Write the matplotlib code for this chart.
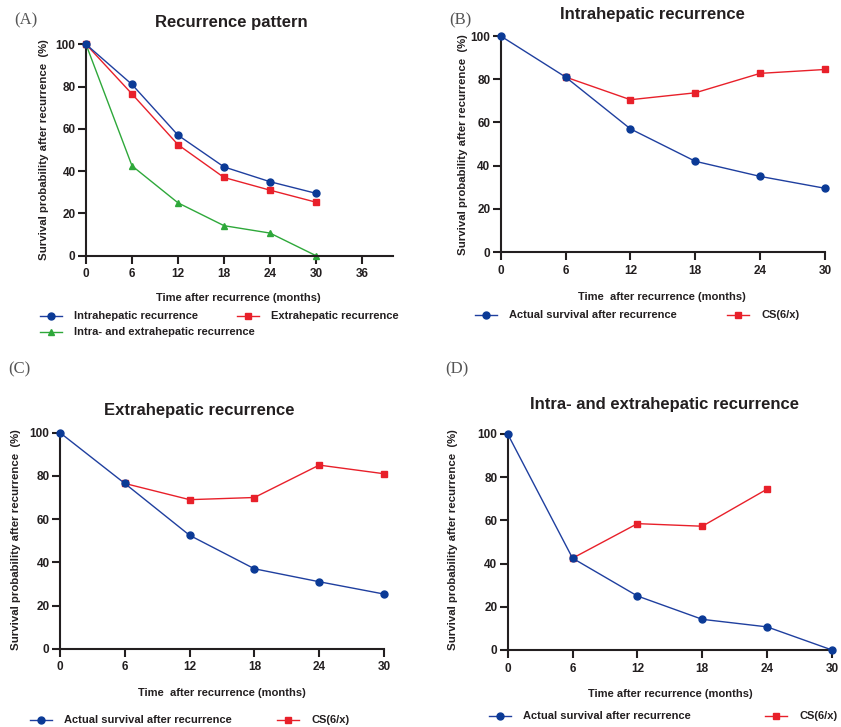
import matplotlib
matplotlib.use("Agg")
from matplotlib import pyplot as plt

# ---- data ----
months = [0, 6, 12, 18, 24, 30]
months_cs = [6, 12, 18, 24, 30]

intra = [100, 81, 57, 42, 35, 29.5]
extra = [100, 76.5, 52.5, 37, 31, 25.3]
both = [100, 42.5, 25, 14.2, 10.7, 0]

cs_intra = [81, 70.5, 73.7, 82.7, 84.5]
cs_extra = [76.5, 69, 70, 85, 81]
cs_both = [42.5, 58.5, 57.3, 74.5]

xticks_a = [0, 6, 12, 18, 24, 30, 36]
xticks = [0, 6, 12, 18, 24, 30]
yticks = [0, 20, 40, 60, 80, 100]

W, H = 841, 727
BLUE = "#1f3f9f"
BLUE_M = "#0b3a96"
RED = "#e8202a"
GREEN = "#2ea83a"
AX = "#231f20"

plt.rcParams["font.family"] = ["Liberation Sans", "DejaVu Sans"]
plt.rcParams["font.weight"] = "bold"

fig = plt.figure(figsize=(W / 100, H / 100), dpi=100)


def px(x, y):
    return x / W, 1 - y / H


def make_ax(x0, x1, ytop, ybot, xmax):
    ax = fig.add_axes([x0 / W, 1 - ybot / H, (x1 - x0) / W, (ybot - ytop) / H])
    ax.set_xlim(0, xmax)
    ax.set_ylim(0, 100)
    ax.spines["top"].set_visible(False)
    ax.spines["right"].set_visible(False)
    for s in ("left", "bottom"):
        ax.spines[s].set_linewidth(1.5)
        ax.spines[s].set_color(AX)
    ax.set_yticks(yticks)
    ax.tick_params(length=6, width=1.5, color=AX, labelsize=8.5,
                   labelcolor=AX)
    ax.tick_params(axis="x", pad=3)
    ax.tick_params(axis="y", pad=1.5)
    return ax


def ylabel(x, yc):
    fig.text(*px(x, yc), "Survival probability after recurrence  (%)",
             rotation=90, ha="center", va="center", fontsize=8.2,
             fontweight="bold", color=AX)


def label(x, y, s, size=8, **kw):
    fig.text(*px(x, y), s, ha="center", va="center", fontsize=size,
             fontweight="bold", color=AX, **kw)


def panel(x, y, s):
    fig.text(*px(x, y), s, ha="left", va="center", fontsize=12,
             family="Liberation Serif", fontweight="normal", color="#555555")


def legend_item(ax, x0, y, color, mcolor, marker, text):
    yy = 1 - y / H
    ax.plot([x0 / W, (x0 + 11) / W, (x0 + 22) / W], [yy, yy, yy],
            transform=fig.transFigure, color=color, lw=1.0, marker=marker,
            markevery=[1], ms=5, mfc=mcolor, mec=mcolor, clip_on=False)
    fig.text(*px(x0 + 34, y), text, ha="left", va="center", fontsize=8,
             fontweight="bold", color=AX)


# ---- (A) ----
axA = make_ax(86, 392.7, 44.3, 255.7, 40)
axA.set_xticks(xticks_a)
axA.plot(months, intra, color=BLUE, lw=1.0, marker="o", ms=5, mfc=BLUE_M,
         mec=BLUE_M, clip_on=False, zorder=4)
axA.plot(months, extra, color=RED, lw=1.0, marker="s", ms=5, mfc=RED,
         mec=RED, clip_on=False, zorder=3)
axA.plot(months, both, color=GREEN, lw=1.0, marker="^", ms=5, mfc=GREEN,
         mec=GREEN, clip_on=False, zorder=2)
panel(14, 20, "(A)")
label(231, 23, "Recurrence pattern", size=12)
ylabel(44, 150)
label(238, 298, "Time after recurrence (months)")

# ---- (B) ----
axB = make_ax(500.7, 825, 36, 252, 30)
axB.set_xticks(xticks)
axB.plot(months, intra, color=BLUE, lw=1.0, marker="o", ms=5, mfc=BLUE_M,
         mec=BLUE_M, clip_on=False, zorder=3)
axB.plot(months_cs, cs_intra, color=RED, lw=1.0, marker="s", ms=5, mfc=RED,
         mec=RED, clip_on=False, zorder=2)
panel(449, 20, "(B)")
label(652, 15, "Intrahepatic recurrence", size=12)
ylabel(463, 145)
label(662, 297, "Time  after recurrence (months)")

# ---- (C) ----
axC = make_ax(60, 384, 432.7, 648.7, 30)
axC.set_xticks(xticks)
axC.plot(months, extra, color=BLUE, lw=1.0, marker="o", ms=5, mfc=BLUE_M,
         mec=BLUE_M, clip_on=False, zorder=3)
axC.plot(months_cs, cs_extra, color=RED, lw=1.0, marker="s", ms=5, mfc=RED,
         mec=RED, clip_on=False, zorder=2)
panel(8, 369, "(C)")
label(199, 411, "Extrahepatic recurrence", size=12)
ylabel(16, 540)
label(222, 693, "Time  after recurrence (months)")

# ---- (D) ----
axD = make_ax(507.7, 832, 434, 650, 30)
axD.set_xticks(xticks)
axD.plot(months, both, color=BLUE, lw=1.0, marker="o", ms=5, mfc=BLUE_M,
         mec=BLUE_M, clip_on=False, zorder=3)
axD.plot(months[1:5], cs_both, color=RED, lw=1.0, marker="s", ms=5, mfc=RED,
         mec=RED, clip_on=False, zorder=2)
panel(445, 369, "(D)")
label(665, 404, "Intra- and extrahepatic recurrence", size=12)
ylabel(453, 540)
label(670, 694, "Time after recurrence (months)")

for a in (axA, axB, axC, axD):
    for t in a.get_xticklabels() + a.get_yticklabels():
        t.set_fontweight("bold")

# ---- legends ----
legend_item(axA, 40, 316, BLUE, BLUE_M, "o", "Intrahepatic recurrence")
legend_item(axA, 237, 316, RED, RED, "s", "Extrahepatic recurrence")
legend_item(axA, 40, 332, GREEN, GREEN, "^", "Intra- and extrahepatic recurrence")
legend_item(axB, 475, 315, BLUE, BLUE_M, "o", "Actual survival after recurrence")
legend_item(axB, 727, 315, RED, RED, "s", "CS(6/x)")
legend_item(axC, 30, 720, BLUE, BLUE_M, "o", "Actual survival after recurrence")
legend_item(axC, 277, 720, RED, RED, "s", "CS(6/x)")
legend_item(axD, 489, 716, BLUE, BLUE_M, "o", "Actual survival after recurrence")
legend_item(axD, 765, 716, RED, RED, "s", "CS(6/x)")

fig.savefig("out.png", dpi=100)
